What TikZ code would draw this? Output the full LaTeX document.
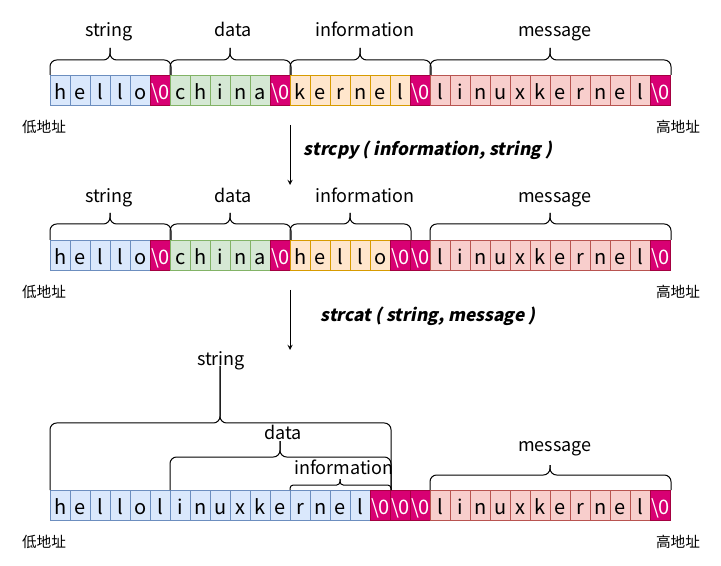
\documentclass[tikz,border=0pt]{standalone}
\usepackage{fontspec}
\setmainfont{Noto Sans CJK SC}
\newfontfamily\opfont[FakeSlant=0.2]{Noto Sans CJK SC}
\usepackage{tikz}
\usetikzlibrary{arrows,calc,positioning}
\definecolor{bluef}{HTML}{DAE8FC}
\definecolor{blued}{HTML}{6C8EBF}
\definecolor{greenf}{HTML}{D5E8D4}
\definecolor{greend}{HTML}{82B366}
\definecolor{orangef}{HTML}{FFE6CC}
\definecolor{oranged}{HTML}{D79B00}
\definecolor{redf}{HTML}{F8CECC}
\definecolor{redd}{HTML}{B85450}
\definecolor{magf}{HTML}{D80073}
\definecolor{magd}{HTML}{A50040}
\newcommand\zr{\textbackslash 0}
\tikzset{cell/.style={draw, line width=0.75pt, anchor=north west, minimum width=15pt, minimum height=22.5pt, inner sep=0pt, text height=13.5pt, text depth=0.5pt, font=\fontsize{15}{18}\selectfont}}
\tikzset{bc/.style={cell, fill=bluef, draw=blued}}
\tikzset{gc/.style={cell, fill=greenf, draw=greend}}
\tikzset{oc/.style={cell, fill=orangef, draw=oranged}}
\tikzset{rc/.style={cell, fill=redf, draw=redd}}
\tikzset{nc/.style={cell, fill=magf, draw=magd, text=white}}
\tikzset{brc/.style={draw, line width=0.75pt, rounded corners=5pt}}
\tikzset{lbl/.style={inner sep=0pt, text height=10pt, text depth=3pt, font=\fontsize{13.5}{16}\selectfont}}
\tikzset{addr/.style={inner sep=0pt, text height=9pt, text depth=2pt, font=\fontsize{11}{13}\selectfont}}
\tikzset{op/.style={inner sep=0pt, text height=10pt, text depth=3pt, font=\opfont\bfseries\fontsize{13}{16}\selectfont}}

\begin{document}
\begin{tikzpicture}[x=0.75pt, y=-0.75pt]
    \useasboundingbox (0,0) rectangle (721,566);

    % row 1
    \foreach \t/\s [count=\i from 0] in {h/bc,e/bc,l/bc,l/bc,o/bc,\zr/nc,
        c/gc,h/gc,i/gc,n/gc,a/gc,\zr/nc,
        k/oc,e/oc,r/oc,n/oc,e/oc,l/oc,\zr/nc,
        l/rc,i/rc,n/rc,u/rc,x/rc,k/rc,e/rc,r/rc,n/rc,e/rc,l/rc,\zr/nc}
        \node[\s] (a\i) at ({50+20*\i},75) {\t};

    \draw[brc] (a0.north west) |- (110,60) -- (110,48);
    \draw[brc] (a5.north east) |- (110,60) -- (110,48);
    \draw[brc] (a6.north west) |- (230,60) -- (230,48);
    \draw[brc] (a11.north east) |- (230,60) -- (230,48);
    \draw[brc] (a12.north west) |- (360,60) -- (360,48);
    \draw[brc] (a18.north east) |- (360,60) -- (360,48);
    \draw[brc] (a19.north west) |- (550,60) -- (550,48);
    \draw[brc] (a30.north east) |- (550,60) -- (550,48);

    \node[lbl] (sa) at (109,32) {string};
    \node[lbl] (da) at (233,32) {data};
    \node[lbl] (ia) at (365,32) {information};
    \node[lbl] (ma) at (555,32) {message};
    \node[addr] (la) at (44,128) {低地址};
    \node[addr] (ha) at (678,128) {高地址};

    % strcpy
    \coordinate (s1) at (290,125);
    \coordinate (e1) at (290,185);
    \draw[line width=0.75pt, -stealth] (s1) -- (e1);
    \node[op] (cpy) at (428,151) {strcpy ( information, string )};

    % row 2
    \foreach \t/\s [count=\i from 0] in {h/bc,e/bc,l/bc,l/bc,o/bc,\zr/nc,
        c/gc,h/gc,i/gc,n/gc,a/gc,\zr/nc,
        h/oc,e/oc,l/oc,l/oc,o/oc,\zr/nc,\zr/nc,
        l/rc,i/rc,n/rc,u/rc,x/rc,k/rc,e/rc,r/rc,n/rc,e/rc,l/rc,\zr/nc}
        \node[\s] (b\i) at ({50+20*\i},240) {\t};

    \draw[brc] (b0.north west) |- (110,224) -- (110,213);
    \draw[brc] (b5.north east) |- (110,224) -- (110,213);
    \draw[brc] (b6.north west) |- (230,224) -- (230,213);
    \draw[brc] (b11.north east) |- (230,224) -- (230,213);
    \draw[brc] (b12.north west) |- (350,224) -- (350,213);
    \draw[brc] (b17.north east) |- (350,224) -- (350,213);
    \draw[brc] (b19.north west) |- (550,224) -- (550,213);
    \draw[brc] (b30.north east) |- (550,224) -- (550,213);

    \node[lbl] (sb) at (109,198) {string};
    \node[lbl] (db) at (233,198) {data};
    \node[lbl] (ib) at (365,198) {information};
    \node[lbl] (mb) at (555,198) {message};
    \node[addr] (lb) at (44,293) {低地址};
    \node[addr] (hb) at (678,293) {高地址};

    % strcat
    \coordinate (s2) at (290,290);
    \coordinate (e2) at (290,350);
    \draw[line width=0.75pt, -stealth] (s2) -- (e2);
    \node[op] (cat) at (428,317) {strcat ( string, message )};

    % row 3
    \foreach \t/\s [count=\i from 0] in {h/bc,e/bc,l/bc,l/bc,o/bc,
        l/bc,i/bc,n/bc,u/bc,x/bc,k/bc,e/bc,r/bc,n/bc,e/bc,l/bc,\zr/nc,\zr/nc,\zr/nc,
        l/rc,i/rc,n/rc,u/rc,x/rc,k/rc,e/rc,r/rc,n/rc,e/rc,l/rc,\zr/nc}
        \node[\s] (c\i) at ({50+20*\i},490) {\t};

    \draw[brc] (c0.north west) |- (220,423) -- (220,366);
    \draw[brc] (c16.north east) |- (220,423) -- (220,366);
    \draw[brc] (c6.north west) |- (280,457) -- (280,441);
    \draw[brc] (c16.north east) |- (280,457) -- (280,441);
    \draw[brc, rounded corners=2.5pt] (c12.north west) |- (340,485) -- (340,479);
    \draw[brc, rounded corners=2.5pt] (c16.north east) |- (340,485) -- (340,479);
    \draw[brc] (c19.north west) |- (550,475) -- (550,465);
    \draw[brc] (c30.north east) |- (550,475) -- (550,465);

    \node[lbl] (sc) at (221,361) {string};
    \node[lbl] (dc) at (283,435) {data};
    \node[lbl] (ic) at (344,470) {information};
    \node[lbl] (mc) at (555,447) {message};
    \node[addr] (lc) at (44,543) {低地址};
    \node[addr] (hc) at (678,543) {高地址};
\end{tikzpicture}
\end{document}
